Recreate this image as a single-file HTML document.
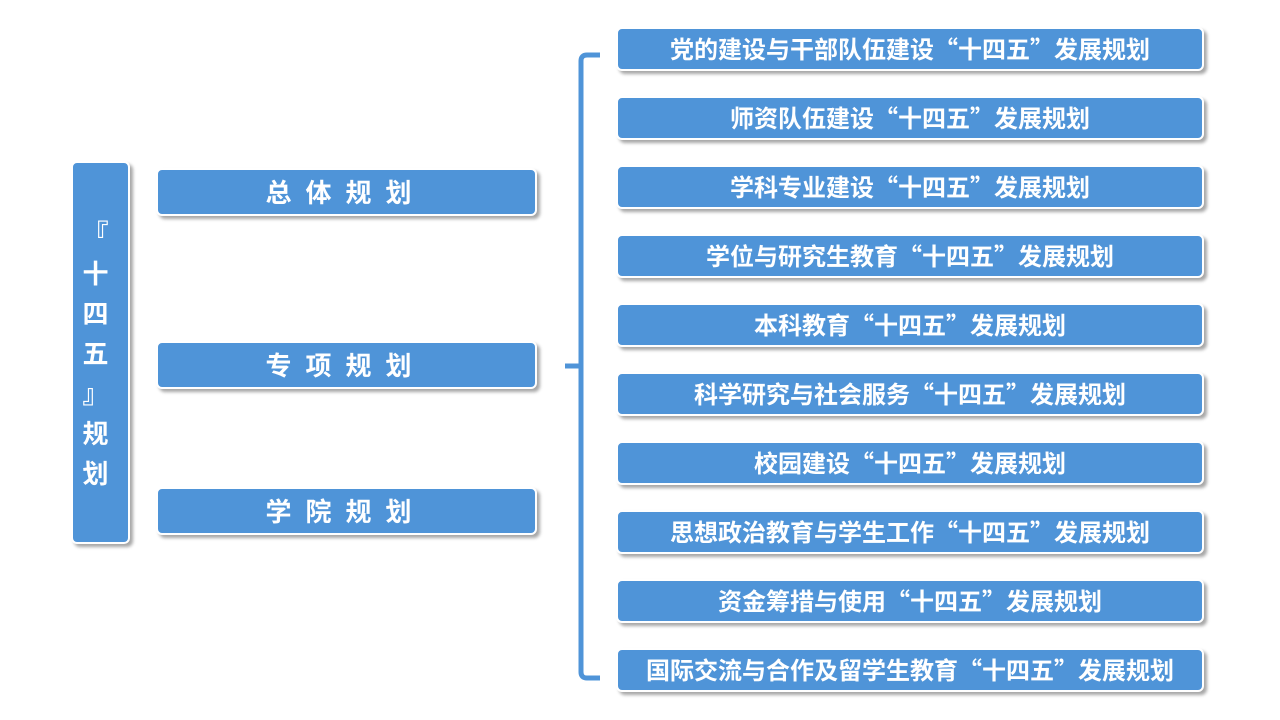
<!DOCTYPE html>
<html><head><meta charset="utf-8"><style>
body{margin:0;width:1280px;height:720px;background:#fff;position:relative;overflow:hidden;font-family:"Noto Sans CJK SC","Liberation Sans",sans-serif;font-weight:bold;}
.b{position:absolute;background:#4f94d8;border:2px solid #fff;border-radius:6px;box-shadow:3px 3px 3px rgba(0,0,0,.35);color:#fff;display:flex;align-items:center;justify-content:center;box-sizing:border-box;}
.r{left:616px;width:588px;height:44px;font-size:24px;letter-spacing:0;padding-bottom:3px;}
.m{left:156px;width:381px;height:48px;font-size:26px;letter-spacing:14px;padding-right:2px;padding-bottom:2px;}
</style></head><body>
<div class="b" style="left:71px;top:161px;width:59px;height:383px;font-size:26px;flex-direction:column;line-height:40px;padding-right:10px;">
<span>『</span><span>十</span><span>四</span><span>五</span><span>』</span><span>规</span><span>划</span></div>
<div class="b m" style="top:168px">总体规划</div>
<div class="b m" style="top:341px">专项规划</div>
<div class="b m" style="top:487px">学院规划</div>
<svg style="position:absolute;left:0;top:0" width="1280" height="720">
<path d="M600 55 H587 Q581 55 581 61 V672 Q581 678 587 678 H600" fill="none" stroke="#4f94d8" stroke-width="5"/>
<path d="M565 366 H581" stroke="#4f94d8" stroke-width="5"/>
</svg>
<div class="b r" style="top:27px">党的建设与干部队伍建设“十四五”发展规划</div>
<div class="b r" style="top:96px">师资队伍建设“十四五”发展规划</div>
<div class="b r" style="top:165px">学科专业建设“十四五”发展规划</div>
<div class="b r" style="top:234px">学位与研究生教育“十四五”发展规划</div>
<div class="b r" style="top:303px">本科教育“十四五”发展规划</div>
<div class="b r" style="top:372px">科学研究与社会服务“十四五”发展规划</div>
<div class="b r" style="top:441px">校园建设“十四五”发展规划</div>
<div class="b r" style="top:510px">思想政治教育与学生工作“十四五”发展规划</div>
<div class="b r" style="top:579px">资金筹措与使用“十四五”发展规划</div>
<div class="b r" style="top:648px">国际交流与合作及留学生教育“十四五”发展规划</div>
</body></html>
